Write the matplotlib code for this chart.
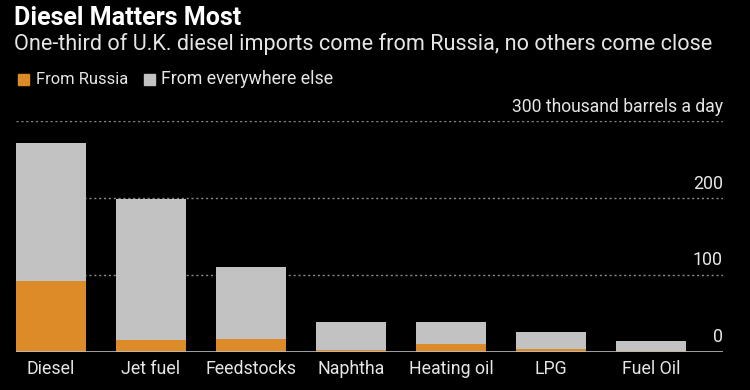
import matplotlib
matplotlib.use("Agg")
import matplotlib.pyplot as plt
from matplotlib.patches import Rectangle

categories = ["Diesel", "Jet fuel", "Feedstocks", "Naphtha", "Heating oil", "LPG", "Fuel Oil"]
from_russia = [92, 15, 17, 2, 10, 3.5, 1.5]
total = [272, 198, 110, 39, 38, 25, 13.5]
from_else = [t - r for t, r in zip(total, from_russia)]
yticks = [0, 100, 200, 300]
ytick_labels = ["0", "100", "200", "300 thousand barrels a day"]

plt.rcParams["font.family"] = ["Roboto", "DejaVu Sans"]

ORANGE = "#dd8a28"
GRAY = "#c2c2c2"
BG = "#000000"
TXT = "#e6e6e6"

fig = plt.figure(figsize=(7.5, 3.9), dpi=100, facecolor=BG)
renderer = fig.canvas.get_renderer()


def fit(t, width_px):
    w = t.get_window_extent(renderer=renderer).width
    t.set_fontsize(t.get_fontsize() * width_px / w)
    return t.get_fontsize()


ax = fig.add_axes([16 / 750, 1 - 351.7 / 390, (723 - 16) / 750, (351.7 - 121) / 390])
ax.set_facecolor(BG)

x = list(range(len(categories)))
ax.bar(x, from_russia, width=0.7, color=ORANGE, zorder=3)
ax.bar(x, from_else, width=0.7, bottom=from_russia, color=GRAY, zorder=3)

ax.set_xlim(-0.35, 6.72)
ax.set_ylim(0, 300)

for v in yticks[1:]:
    ax.axhline(v, color="#8a8a8a", lw=1.0, ls=(0, (1.5, 2)), zorder=1)
ax.axhline(0, color="#bdbdbd", lw=1.2, zorder=4)

ax.set_xticks(x)
ax.set_xticklabels(categories, color=TXT, fontsize=12)
ax.tick_params(axis="x", length=0, pad=6)
ax.set_yticks([])
for s in ax.spines.values():
    s.set_visible(False)
xl = ax.get_xticklabels()
fs_x = fit(xl[4], 84)
for t in xl:
    t.set_fontsize(fs_x)

ylabs = []
for v, lab in zip(yticks, ytick_labels):
    ylabs.append(ax.text(1.0, v + 7, lab, transform=ax.get_yaxis_transform(), ha="right",
                         va="bottom", color=TXT, fontsize=fs_x))
fit(ylabs[3], 212)

title = fig.text(14 / 750, 1 - 18 / 390, "Diesel Matters Most", color="white", fontsize=16,
                 fontweight="bold", va="center", ha="left")
fit(title, 228)
sub = fig.text(14 / 750, 1 - 44 / 390,
               "One-third of U.K. diesel imports come from Russia, no others come close",
               color=TXT, fontsize=15, va="center", ha="left")
fit(sub, 699)

# legend
fig.patches.append(Rectangle((18 / 750, 1 - 85 / 390), 11 / 750, 11 / 390,
                             transform=fig.transFigure, color=ORANGE))
l1 = fig.text(36 / 750, 1 - 79.5 / 390, "From Russia", color=TXT, fontsize=12, va="center")
fit(l1, 92)
fig.patches.append(Rectangle((144 / 750, 1 - 85 / 390), 11 / 750, 11 / 390,
                             transform=fig.transFigure, color=GRAY))
l2 = fig.text(161 / 750, 1 - 79.5 / 390, "From everywhere else", color=TXT, fontsize=12, va="center")
fit(l2, 172)

fig.savefig("out.png", dpi=100, facecolor=BG)
